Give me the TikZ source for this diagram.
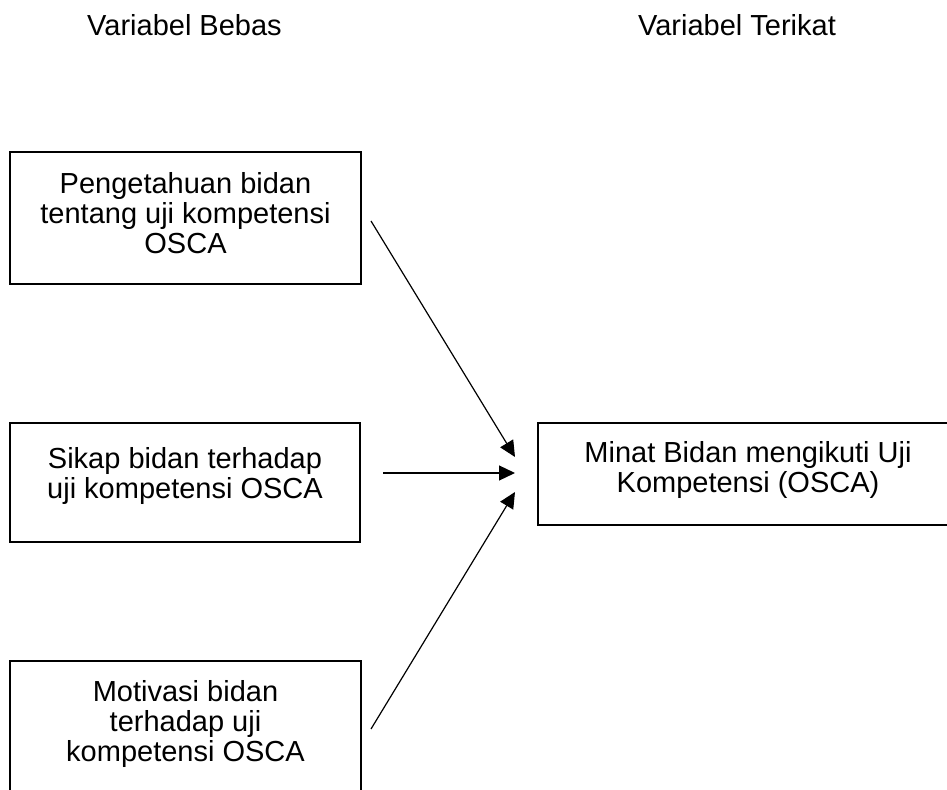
\documentclass[tikz,border=0pt]{standalone}
\usepackage{fontspec}
\setmainfont{Liberation Sans}
\usetikzlibrary{arrows.meta}
\tikzstyle{varbox} = [rectangle, draw=black, line width=1pt, align=center, inner sep=0pt, font=\fontsize{14.5}{15}\selectfont]
\tikzstyle{vartitle} = [anchor=base, inner sep=0pt, font=\fontsize{14.5}{15}\selectfont]
\tikzstyle{arr} = [-{Triangle[length=8pt,width=7.5pt]}, line width=0.6pt]

\begin{document}
\begin{tikzpicture}[x=0.5pt, y=-0.5pt]
\clip (0,0) rectangle (947,790);

% Titles
\node[vartitle] (bebas)   at (184.5,36) {Variabel Bebas};
\node[vartitle] (terikat) at (737,36)   {Variabel Terikat};

% Define nodes
\node[varbox, minimum width=175.5pt, minimum height=66pt, text depth=5pt]    (peng)  at (185.5,218) {Pengetahuan bidan\\tentang uji kompetensi\\OSCA};
\node[varbox, minimum width=175pt,   minimum height=59.5pt, text depth=10pt] (sikap) at (185,482.5) {Sikap bidan terhadap\\uji kompetensi OSCA};
\node[varbox, minimum width=175.5pt, minimum height=70pt, text depth=10pt]   (motiv) at (185.5,731) {Motivasi bidan\\terhadap uji\\kompetensi OSCA};
\node[varbox, minimum width=210pt,   minimum height=51pt, text depth=7.5pt]  (minat) at (748,474)   {Minat Bidan mengikuti Uji\\Kompetensi (OSCA)};

% Arrow ends
\coordinate (p1) at (371,221);
\coordinate (p2) at (383,473);
\coordinate (p3) at (371,729);
\coordinate (t1) at (515,457);
\coordinate (t2) at (515,473);
\coordinate (t3) at (515,492);

% Edges
\draw[arr] (p1) -- (t1);
\draw[arr] (p2) -- (t2);
\draw[arr] (p3) -- (t3);

\end{tikzpicture}
\end{document}
